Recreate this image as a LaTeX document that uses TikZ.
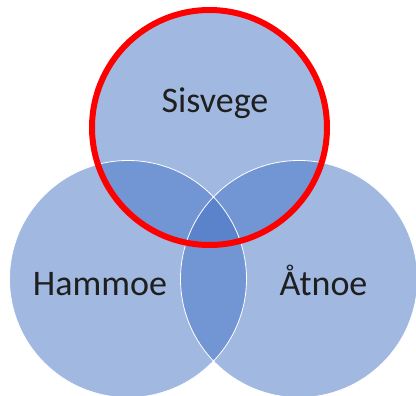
\documentclass[tikz,border=0pt]{standalone}
\usepackage{fontspec}
\setmainfont{Carlito}
\usetikzlibrary{positioning}
\definecolor{vennblue}{RGB}{68,114,196}
\definecolor{ringred}{RGB}{255,0,0}

\begin{document}
\begin{tikzpicture}[x=1pt, y=-1pt,
    set/.style={circle, minimum size=237pt, inner sep=0pt, fill=vennblue, fill opacity=0.5},
    rim/.style={circle, minimum size=237pt, inner sep=0pt, draw=white, line width=0.8pt},
    tag/.style={font=\fontsize{36}{40}\selectfont, text=black!88, inner sep=0pt, anchor=base}]
    \useasboundingbox (0,0) rectangle (416,396);

    % Circles
    \node[set] (sisvegeset) at (209.5,127.5) {};
    \node[set] (hammoeset) at (128,279) {};
    \node[set] (atnoeset) at (299,279) {};

    % White rims
    \foreach \s in {sisvegeset, hammoeset, atnoeset}
        \node[rim] at (\s) {};

    % Red ring
    \node[circle, minimum size=235pt, inner sep=0pt, draw=ringred, line width=6pt] (ring) at (sisvegeset) {};

    % Labels
    \node[tag] (sisvege) at (215,113) {Sisvege};
    \node[tag] (hammoe) at (100,296) {Hammoe};
    \node[tag] (atnoe) at (323.5,296) {Åtnoe};
\end{tikzpicture}
\end{document}
